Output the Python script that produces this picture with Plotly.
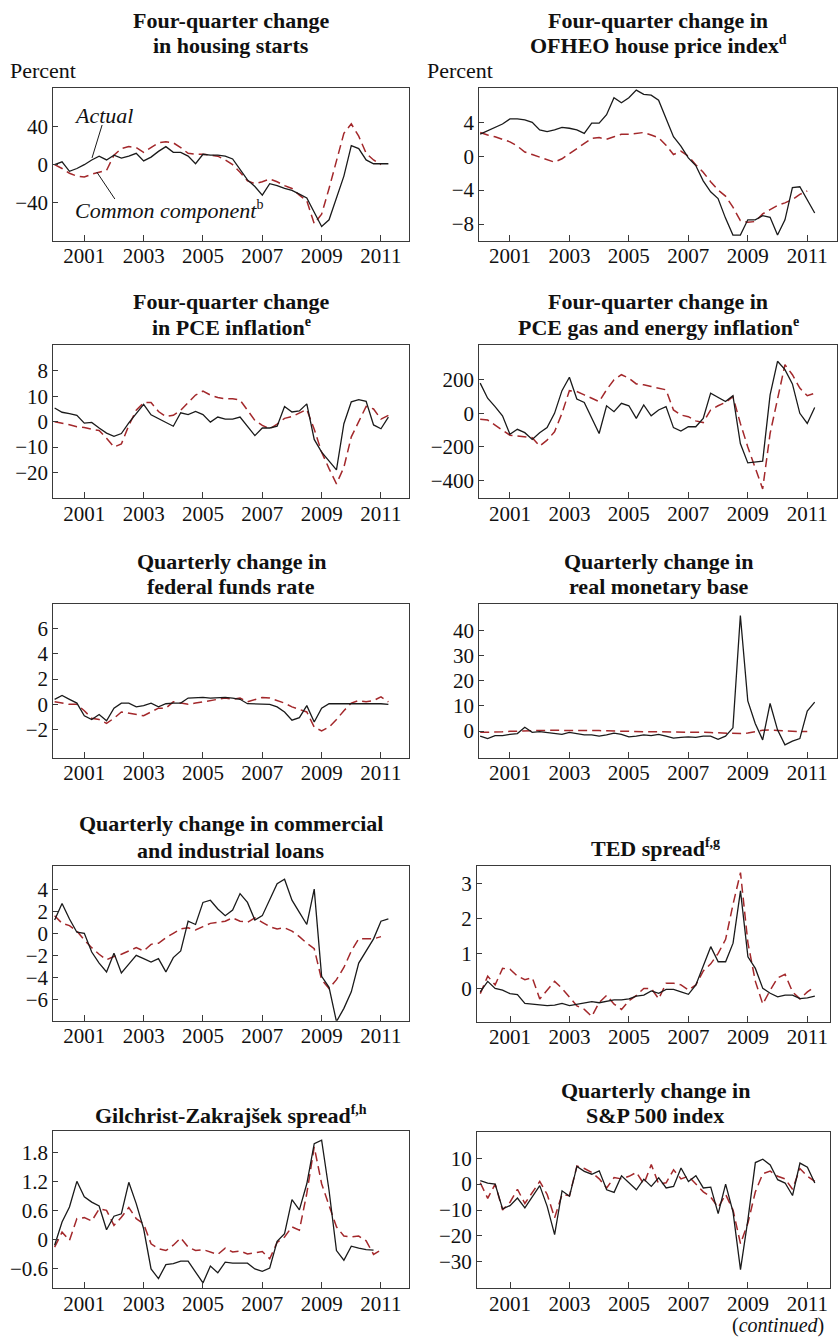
import plotly.graph_objects as go

FONT = "Liberation Serif"
ACTUAL_COLOR = "#1a1a1a"
COMMON_COLOR = "#a3282b"
AXIS_COLOR = "#3a3a3a"
TEXT_COLOR = "#111111"

# Quarterly observations, 2000:Q1 onward (decimal years)
quarters = [2000 + k / 4 for k in range(46)]

year_ticks = [2001, 2003, 2005, 2007, 2009, 2011]
year_labels = ["2001", "2003", "2005", "2007", "2009", "2011"]

# ---- Four-quarter change in housing starts (percent)
housing_actual = [0, 3, -7, -4, 0, 5, 9, 5, 10, 7, 9, 12, 4, 8, 14, 19, 13, 13, 9, 1,
                  11, 10, 10, 9, 6, -5, -16, -23, -32, -20, -22, -25, -27, -31, -35,
                  -50, -65, -58, -35, -12, 20, 17, 5, 1, 1, 1]
housing_common = [0, -4, -9, -12, -13, -10, -8, -6, 10, 17, 19, 18, 13, 18, 23, 24, 23,
                  18, 12, 11, 11, 10, 9, 5, 0, -8, -17, -20, -18, -15, -18, -22, -25,
                  -32, -38, -62, -52, -25, 5, 33, 43, 30, 12, 5, 0, None]
housing_yticks = [-40, 0, 40]
housing_ylabels = ["\u221240", "0", "40"]

# ---- Four-quarter change in OFHEO house price index
ofheo_actual = [2.6, 3.0, 3.4, 3.8, 4.4, 4.4, 4.3, 4.0, 3.1, 2.9, 3.1, 3.4, 3.3, 3.1, 2.7,
                3.9, 3.9, 4.9, 6.9, 6.3, 6.9, 7.8, 7.3, 7.2, 6.6, 4.5, 2.3, 1.2, -0.2,
                -1.1, -2.9, -4.2, -5.0, -7.3, -9.3, -9.3, -7.5, -7.5, -7.0, -7.2, -9.3,
                -7.5, -3.7, -3.6, -5.1, -6.7]
ofheo_common = [2.8, 2.5, 2.3, 2.0, 1.7, 1.2, 0.5, 0.2, -0.1, -0.4, -0.7, -0.3, 0.3, 0.9,
                1.5, 2.1, 2.2, 2.0, 2.3, 2.6, 2.6, 2.7, 2.8, 2.5, 2.2, 1.3, 0.2, 0.6, 0.0,
                -1.0, -1.9, -3.0, -4.0, -4.7, -6.0, -7.6, -7.8, -7.7, -6.8, -6.3, -5.8,
                -5.5, -5.1, -4.5, -4.1, None]
ofheo_yticks = [-8, -4, 0, 4]
ofheo_ylabels = ["\u22128", "\u22124", "0", "4"]

# ---- Four-quarter change in PCE inflation
pce_actual = [5.4, 3.7, 3.2, 2.5, -0.6, -0.3, -2.5, -4.5, -5.8, -4.7, -0.5, 3.3, 6.8, 2.7,
              1.3, -0.3, -1.8, 3.5, 2.8, 4.0, 2.8, -0.2, 1.8, 1.0, 1.0, 1.8, -1.8, -5.5,
              -2.5, -2.5, -1.8, 6.0, 3.8, 4.2, 7.0, -7.0, -12.0, -15.6, -19.0, -0.8, 7.8,
              8.7, 8.0, -1.3, -2.8, 1.8]
pce_common = [0, -0.5, -1.2, -2.0, -2.3, -3.0, -3.5, -6.5, -10.0, -8.8, -1.5, 4.5, 7.5,
              7.5, 4.0, 2.0, 2.5, 4.5, 7.5, 10.5, 12.0, 10.5, 9.5, 9.0, 9.0, 8.5, 4.5,
              0.5, -1.5, -2.8, -1.0, 1.3, 2.0, 3.5, 4.8, -3.0, -12.0, -18.5, -24.5,
              -18.0, -6.0, 0, 6.0, 5.0, 1.0, 2.5]
pce_yticks = [-20, -10, 0, 10, 20]
pce_ylabels = ["\u221220", "\u221210", "0", "10", "8"]

# ---- Four-quarter change in PCE gas and energy inflation
gas_actual = [180, 90, 40, -15, -125, -95, -115, -155, -115, -85, 0, 135, 215, 85, 65,
              -30, -120, 45, 10, 60, 45, -30, 50, -15, 20, 40, -85, -105, -80, -80, -30,
              120, 95, 70, 105, -180, -295, -290, -285, 110, 310, 260, 175, 0, -60, 35]
gas_common = [-35, -40, -70, -100, -130, -135, -140, -145, -195, -160, -110, 0, 135, 130,
              110, 90, 70, 140, 200, 230, 210, 175, 170, 160, 150, 140, 20, -10, -20,
              -45, -55, 20, 45, 65, 100, -60, -200, -330, -450, -120, 80, 290, 230, 150,
              105, 120]
gas_yticks = [-400, -200, 0, 200]
gas_ylabels = ["\u2212400", "\u2212200", "0", "200"]

# ---- Quarterly change in federal funds rate
ff_actual = [0.4, 0.7, 0.4, 0.1, -0.9, -1.2, -0.8, -1.3, -0.3, 0.1, 0.1, -0.2, -0.1, 0.1,
             -0.2, 0.05, 0.1, 0.1, 0.5, 0.55, 0.55, 0.5, 0.55, 0.55, 0.5, 0.4, 0.05,
             0.05, 0.05, 0.0, -0.2, -0.6, -1.25, -1.05, -0.1, -1.4, -0.3, 0.05, 0.05,
             0.05, 0.05, 0.1, 0.1, 0.05, 0.05, 0.0]
ff_common = [0.2, 0.1, 0.0, 0.0, -0.5, -1.1, -1.2, -1.5, -1.1, -0.6, -0.7, -0.8, -0.9,
             -0.6, -0.3, -0.3, 0.2, 0.1, 0.0, 0.1, 0.2, 0.3, 0.4, 0.5, 0.4, 0.5, 0.2, 0.4,
             0.55, 0.5, 0.3, 0.1, -0.2, -0.4, -0.6, -1.8, -2.1, -1.8, -1.2, -0.5, 0.1,
             0.3, 0.2, 0.3, 0.6, 0.2]
ff_yticks = [-2, 0, 2, 4, 6]
ff_ylabels = ["\u22122", "0", "2", "4", "6"]

# ---- Quarterly change in real monetary base
mb_actual = [-2.0, -3.0, -1.8, -1.8, -1.3, -1.0, 1.5, -0.5, -0.2, -0.5, -0.8, -1.3, -0.5,
             -1.0, -1.5, -1.5, -2.0, -1.5, -0.8, -1.3, -2.3, -2.0, -1.5, -1.8, -1.3,
             -2.0, -2.8, -2.5, -2.3, -2.5, -2.0, -2.0, -3.3, -2.0, 1.3, 46.0, 12.0, 3.0,
             -3.5, 11.0, 0.5, -5.5, -4.0, -3.0, 8.0, 11.5]
mb_common = [-0.5, -0.5, -0.3, -0.3, -0.1, 0.0, 0.2, 0.3, 0.3, 0.3, 0.3, 0.3, 0.4, 0.3,
             0.3, 0.2, 0.2, 0.1, 0.0, 0.0, -0.1, -0.2, -0.2, -0.3, -0.3, -0.3, -0.4,
             -0.4, -0.4, -0.5, -0.5, -0.6, -0.7, -0.8, -0.9, -1.0, -0.8, -0.3, 0.3, 0.4,
             0.2, 0.0, -0.1, -0.2, -0.2, None]
mb_yticks = [0, 10, 20, 30, 40]
mb_ylabels = ["0", "10", "20", "30", "40"]

# ---- Quarterly change in commercial and industrial loans
ci_actual = [1.2, 2.7, 1.3, 0.1, 0.0, -1.7, -2.7, -3.5, -1.8, -3.6, -2.8, -2.0, -2.3,
             -2.6, -2.3, -3.5, -2.2, -1.6, 1.1, 0.8, 2.8, 3.0, 2.2, 1.6, 2.1, 3.6, 2.8,
             1.2, 1.6, 3.0, 4.5, 4.9, 3.0, 1.9, 0.8, 4.0, -3.9, -4.9, -8.0, -6.8, -5.3,
             -2.7, -1.6, -0.5, 1.1, 1.3]
ci_common = [1.6, 0.9, 0.7, 0.2, -0.6, -1.3, -1.9, -2.4, -2.1, -1.9, -1.6, -1.3, -1.6,
             -1.0, -0.9, -0.4, 0.0, 0.4, 0.5, 0.3, 0.6, 0.9, 1.0, 1.1, 1.4, 1.1, 1.0, 1.4,
             1.0, 0.6, 0.4, 0.5, 0.2, -0.3, -0.9, -1.4, -4.2, -5.0, -4.2, -3.1, -1.6,
             -0.5, -0.5, -0.5, -0.3, None]
ci_yticks = [-6, -4, -2, 0, 2, 4]
ci_ylabels = ["\u22126", "\u22124", "\u22122", "0", "2", "4"]

# ---- TED spread
ted_actual = [-0.1, 0.2, 0.0, -0.05, -0.15, -0.18, -0.43, -0.45, -0.48, -0.49, -0.48,
              -0.43, -0.49, -0.46, -0.43, -0.38, -0.41, -0.38, -0.33, -0.33, -0.30,
              -0.22, -0.19, -0.07, -0.14, -0.03, -0.03, -0.10, -0.17, 0.10, 0.62, 1.19,
              0.76, 0.76, 1.29, 2.78, 0.90, 0.57, 0.0, -0.14, -0.24, -0.19, -0.19, -0.29,
              -0.27, -0.22]
ted_common = [-0.15, 0.35, 0.1, 0.57, 0.55, 0.35, 0.25, 0.3, -0.3, -0.05, 0.2, 0.0, -0.25,
              -0.5, -0.6, -0.8, -0.4, -0.2, -0.45, -0.6, -0.35, -0.2, 0.0, 0.0, -0.3,
              0.15, 0.15, 0.1, -0.05, 0.1, 0.5, 0.7, 1.0, 1.4, 2.4, 3.3, 1.3, 0.2, -0.45,
              -0.05, 0.3, 0.4, -0.1, -0.3, -0.1, 0.05]
ted_yticks = [0, 1, 2, 3]
ted_ylabels = ["0", "1", "2", "3"]

# ---- Gilchrist-Zakrajsek spread
gz_actual = [-0.12, 0.36, 0.67, 1.2, 0.88, 0.77, 0.69, 0.2, 0.48, 0.53, 1.18, 0.74, 0.22,
             -0.61, -0.81, -0.52, -0.5, -0.45, -0.45, -0.68, -0.9, -0.55, -0.69, -0.47,
             -0.49, -0.49, -0.49, -0.61, -0.66, -0.59, -0.04, 0.12, 0.82, 0.61, 1.15,
             1.98, 2.05, 1.01, -0.23, -0.43, -0.14, -0.18, -0.21, -0.22]
gz_common = [-0.16, 0.15, -0.02, 0.43, 0.45, 0.38, 0.63, 0.6, 0.29, 0.46, 0.66, 0.43, 0.32,
             -0.09, -0.19, -0.23, -0.12, 0.03, -0.16, -0.23, -0.21, -0.26, -0.31, -0.18,
             -0.26, -0.24, -0.3, -0.28, -0.25, -0.4, -0.06, 0.05, 0.26, 0.19, 0.95, 1.91,
             1.15, 0.7, 0.26, 0.07, 0.05, 0.07, -0.03, -0.31, -0.22]
gz_yticks = [-0.6, 0, 0.6, 1.2, 1.8]
gz_ylabels = ["\u22120.6", "0", "0.6", "1.2", "1.8"]

# ---- Quarterly change in S&P 500 index
sp_actual = [1.3, 0.4, 0.0, -9.6, -8.3, -5.4, -9.2, -4.7, -0.6, -8.6, -19.5, -2.6, -4.7,
             6.8, 4.9, 3.8, 5.1, -2.2, -3.2, 3.2, 0.6, -2.2, 1.9, -0.9, 2.4, -1.5, -0.9,
             6.2, 1.0, 3.2, -1.5, -1.2, -11.4, 0.0, -10.8, -33.0, -13.7, 8.3, 9.6, 7.4,
             1.7, 0.4, -4.4, 8.1, 6.5, 0.4]
sp_common = [0.5, -5.5, 0.0, -10.0, -7.0, -2.0, -7.5, -3.0, 1.0, -4.0, -13.0, -4.0, -4.5,
             7.0, 6.0, 4.5, 2.0, -1.5, 2.5, 2.0, 3.0, 4.5, 0.0, 7.5, 0.0, 0.5, 5.5, 2.0,
             3.0, 0.0, -3.0, -5.0, -9.0, -4.0, -10.0, -23.0, -15.0, -3.0, 4.0, 5.0, 3.0,
             2.0, -2.0, 6.0, 3.0, 1.0]
sp_yticks = [-30, -20, -10, 0, 10]
sp_ylabels = ["\u221230", "\u221220", "\u221210", "0", "10"]

# ---- Page geometry (pixels in an 839 x 1340 page)
W, H = 839, 1340
LEFT_COL = dict(x0=53.3, x1=409.3, xrange=[1999.955, 2011.955], cx=231)
RIGHT_COL = dict(x0=479.3, x1=836.7, xrange=[1999.97, 2011.99], cx=658)
RIGHT_COL_LOW = dict(x0=477.0, x1=830.0, xrange=[1999.89, 2011.76], cx=655)


def sup(mark):
    return f"<sup><span style='font-size:14px;color:{TEXT_COLOR}'>{mark}</span></sup>"


panels = [
    dict(titles=[("Four-quarter change", 20), ("in housing starts", 45)],
         actual=housing_actual, common=housing_common, yticks=housing_yticks,
         ylabels=housing_ylabels, yrange=[-80.3, 80.7], col=LEFT_COL, top=88, bottom=241),
    dict(titles=[("Four-quarter change in", 20),
                 ("OFHEO house price index" + sup("d"), 45)],
         actual=ofheo_actual, common=ofheo_common, yticks=ofheo_yticks,
         ylabels=ofheo_ylabels, yrange=[-10.0, 8.05], col=RIGHT_COL, top=88, bottom=241),
    dict(titles=[("Four-quarter change", 301.7),
                 ("in PCE inflation" + sup("e"), 326.7)],
         actual=pce_actual, common=pce_common, yticks=pce_yticks,
         ylabels=pce_ylabels, yrange=[-30.2, 30.2], col=LEFT_COL, top=345, bottom=498.3),
    dict(titles=[("Four-quarter change in", 301.7),
                 ("PCE gas and energy inflation" + sup("e"), 326.7)],
         actual=gas_actual, common=gas_common, yticks=gas_yticks,
         ylabels=gas_ylabels, yrange=[-506, 407], col=RIGHT_COL, top=345, bottom=498.3),
    dict(titles=[("Quarterly change in", 561.7), ("federal funds rate", 586)],
         actual=ff_actual, common=ff_common, yticks=ff_yticks,
         ylabels=ff_ylabels, yrange=[-4.22, 7.94], col=LEFT_COL, top=604, bottom=757.7),
    dict(titles=[("Quarterly change in", 561.7), ("real monetary base", 586)],
         actual=mb_actual, common=mb_common, yticks=mb_yticks,
         ylabels=mb_ylabels, yrange=[-10.6, 50.6], col=RIGHT_COL, top=604, bottom=757.7),
    dict(titles=[("Quarterly change in commercial", 823.3),
                 ("and industrial loans", 850)],
         actual=ci_actual, common=ci_common, yticks=ci_yticks,
         ylabels=ci_ylabels, yrange=[-7.92, 6.1], col=LEFT_COL, top=866, bottom=1020.7),
    dict(titles=[("TED spread" + sup("f,g"), 848.3)],
         actual=ted_actual, common=ted_common, yticks=ted_yticks,
         ylabels=ted_ylabels, yrange=[-0.95, 3.49], col=RIGHT_COL_LOW, top=866, bottom=1021.7),
    dict(titles=[("Gilchrist-Zakraj\u0161ek spread" + sup("f,h"), 1115)],
         actual=gz_actual, common=gz_common, yticks=gz_yticks,
         ylabels=gz_ylabels, yrange=[-1.01, 2.24], col=LEFT_COL, top=1131, bottom=1288.3),
    dict(titles=[("Quarterly change in", 1090), ("S&amp;P 500 index", 1115)],
         actual=sp_actual, common=sp_common, yticks=sp_yticks,
         ylabels=sp_ylabels, yrange=[-40.2, 20.2], col=RIGHT_COL_LOW, top=1131.7, bottom=1288.3),
]


def px_x(x):
    return x / W


def px_y(y):
    return 1 - y / H


fig = go.Figure()
annotations = []
layout_axes = {}

for n, p in enumerate(panels, start=1):
    xs = "x" if n == 1 else f"x{n}"
    ys = "y" if n == 1 else f"y{n}"
    xname = "xaxis" if n == 1 else f"xaxis{n}"
    yname = "yaxis" if n == 1 else f"yaxis{n}"
    col = p["col"]

    fig.add_trace(go.Scatter(
        x=quarters[:len(p["common"])], y=p["common"], xaxis=xs, yaxis=ys,
        mode="lines", line=dict(color=COMMON_COLOR, width=1.5, dash="9px,5px"),
        showlegend=False, hoverinfo="skip", connectgaps=False))
    fig.add_trace(go.Scatter(
        x=quarters[:len(p["actual"])], y=p["actual"], xaxis=xs, yaxis=ys,
        mode="lines", line=dict(color=ACTUAL_COLOR, width=1.3),
        showlegend=False, hoverinfo="skip"))

    layout_axes[xname] = dict(
        domain=[px_x(col["x0"]), px_x(col["x1"])], range=col["xrange"], anchor=ys,
        tickmode="array", tickvals=year_ticks, ticktext=year_labels,
        ticks="inside", ticklen=6, tickwidth=1, tickcolor=AXIS_COLOR,
        ticklabelstandoff=-4,
        showline=True, linecolor=AXIS_COLOR, linewidth=1, mirror=True,
        showgrid=False, zeroline=False,
        tickfont=dict(family=FONT, size=21, color=TEXT_COLOR))
    layout_axes[yname] = dict(
        domain=[px_y(p["bottom"]), px_y(p["top"])], range=p["yrange"], anchor=xs,
        tickmode="array", tickvals=p["yticks"], ticktext=p["ylabels"],
        ticks="inside", ticklen=5, tickwidth=1, tickcolor=AXIS_COLOR,
        showline=True, linecolor=AXIS_COLOR, linewidth=1, mirror=True,
        showgrid=False, zeroline=False,
        tickfont=dict(family=FONT, size=21, color=TEXT_COLOR))

    for text, ty in p["titles"]:
        annotations.append(dict(
            text=f"<b>{text}</b>", x=px_x(col["cx"]), y=px_y(ty),
            xref="paper", yref="paper", xanchor="center", yanchor="middle",
            showarrow=False, font=dict(family=FONT, size=22, color=TEXT_COLOR)))

# Units label above the first row
for cx in (42.5, 460.5):
    annotations.append(dict(
        text="Percent", x=px_x(cx), y=px_y(71), xref="paper", yref="paper",
        xanchor="center", yanchor="middle", showarrow=False,
        font=dict(family=FONT, size=22, color=TEXT_COLOR)))

# Series labels in the housing starts panel
annotations.append(dict(
    text="<i>Actual</i>", x=2001.65, y=52, xref="x", yref="y",
    xanchor="center", yanchor="middle", showarrow=False,
    font=dict(family=FONT, size=22, color=TEXT_COLOR)))
annotations.append(dict(
    text="<i>Common component</i>" + sup("b"),
    x=2003.85, y=-48, xref="x", yref="y",
    xanchor="center", yanchor="middle", showarrow=False,
    font=dict(family=FONT, size=22, color=TEXT_COLOR)))

shapes = [
    dict(type="line", xref="x", yref="y", x0=2001.6, y0=41.8, x1=2001.26, y1=7.1,
         line=dict(color=ACTUAL_COLOR, width=1)),
    dict(type="line", xref="x", yref="y", x0=2002.03, y0=-36.1, x1=2001.42, y1=-7.7,
         line=dict(color=ACTUAL_COLOR, width=1)),
]

annotations.append(dict(
    text="(<i>continued</i>)", x=px_x(826), y=px_y(1339), xref="paper", yref="paper",
    xanchor="right", yanchor="bottom", showarrow=False,
    font=dict(family=FONT, size=20, color=TEXT_COLOR)))

fig.update_layout(
    width=W, height=H, margin=dict(l=0, r=0, t=0, b=0),
    paper_bgcolor="white", plot_bgcolor="white",
    annotations=annotations, shapes=shapes, showlegend=False,
    **layout_axes)

fig.write_html("out.html")
